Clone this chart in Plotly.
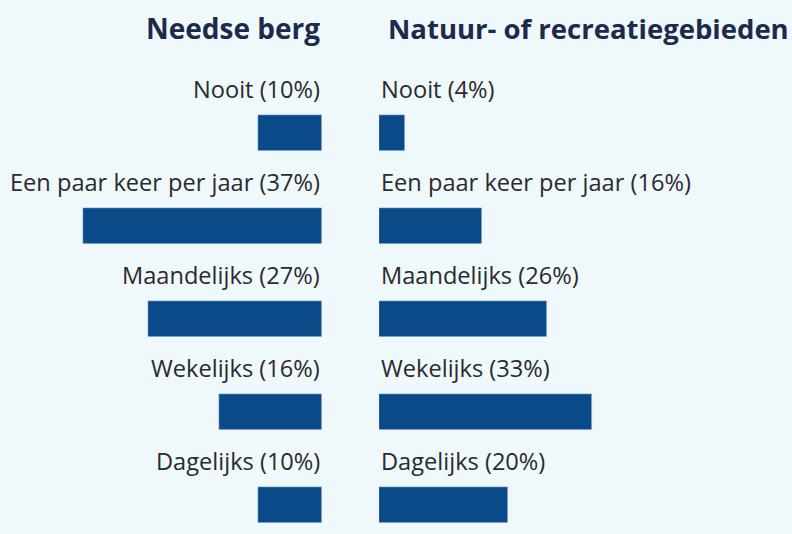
import plotly.graph_objects as go

categories = ["Nooit", "Een paar keer per jaar", "Maandelijks", "Wekelijks", "Dagelijks"]
needse_berg = [10, 37, 27, 16, 10]
natuur = [4, 16, 26, 33, 20]
titles = ["Needse berg", "Natuur- of recreatiegebieden"]

W, H = 792, 534
BAR = "#0b4a89"
BG = "#eff8fb"
TXT = "#2b2a2e"
TITLE = "#1c2a4c"
FONT = "Open Sans"

px_per_pct = 6.45
left_edge = 322
right_edge = 379
pos = list(range(len(categories)))

fig = go.Figure()
fig.add_trace(go.Bar(x=needse_berg, y=pos, orientation="h", marker_color=BAR,
                     width=0.39, xaxis="x", yaxis="y", showlegend=False, hoverinfo="skip"))
fig.add_trace(go.Bar(x=natuur, y=pos, orientation="h", marker_color=BAR,
                     width=0.39, xaxis="x2", yaxis="y", showlegend=False, hoverinfo="skip"))

ann = []
for i, c in enumerate(categories):
    ann.append(dict(x=0, y=i - 0.475, xref="x", yref="y", xanchor="right", yanchor="middle",
                    text=f"{c} ({needse_berg[i]}%)", showarrow=False,
                    font=dict(family=FONT, size=23.6, color=TXT)))
    ann.append(dict(x=0, y=i - 0.475, xref="x2", yref="y", xanchor="left", yanchor="middle",
                    text=f"{c} ({natuur[i]}%)", showarrow=False,
                    font=dict(family=FONT, size=23.6, color=TXT)))
ann.append(dict(x=left_edge / W, y=1 - 28 / H, xref="paper", yref="paper", xanchor="right",
                yanchor="middle", text=f"<b>{titles[0]}</b>", showarrow=False,
                font=dict(family=FONT, size=28, color=TITLE)))
ann.append(dict(x=386 / W, y=1 - 28 / H, xref="paper", yref="paper", xanchor="left",
                yanchor="middle", text=f"<b>{titles[1]}</b>", showarrow=False,
                font=dict(family=FONT, size=27.5, color=TITLE)))

unit = 93
y0_px = 133
fig.update_layout(
    width=W, height=H, margin=dict(l=0, r=0, t=0, b=0),
    paper_bgcolor=BG, plot_bgcolor=BG, bargap=0,
    xaxis=dict(domain=[0, left_edge / W], range=[left_edge / px_per_pct, 0], visible=False, fixedrange=True),
    xaxis2=dict(domain=[right_edge / W, 1], range=[0, (W - right_edge) / px_per_pct], visible=False, fixedrange=True),
    yaxis=dict(range=[(H - y0_px) / unit, -y0_px / unit], visible=False, fixedrange=True),
    annotations=ann,
)
fig.write_html("out.html", config={"displayModeBar": False},
               post_script="document.body.style.margin='0';document.body.style.background='%s';" % BG)
